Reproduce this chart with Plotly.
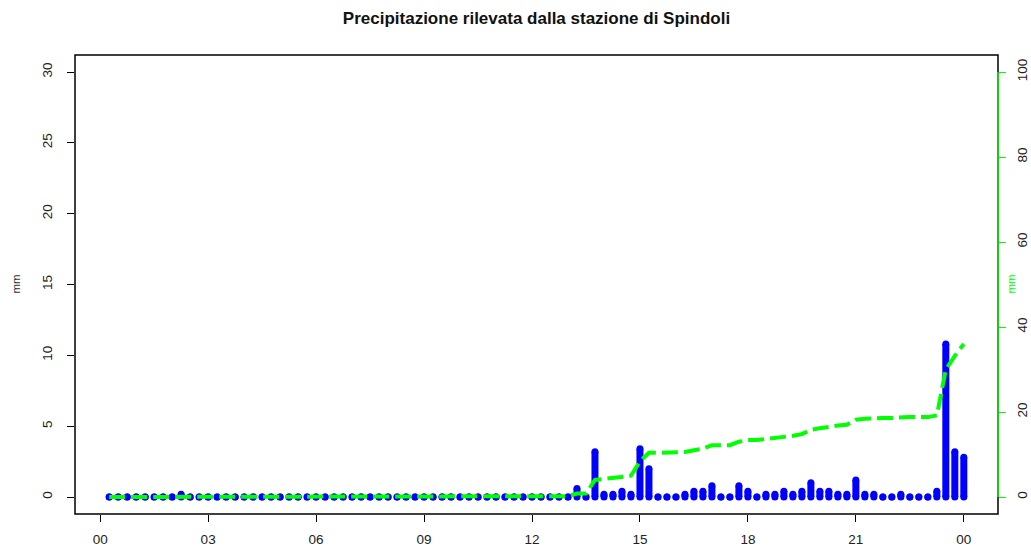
import numpy as np
import plotly.graph_objects as go

# 15-minute rainfall totals (mm), slots from 00:15 to 24:00, one row per 3 hours
rain_00_03 = [0, 0, 0, 0, 0, 0, 0, 0, 0.2, 0, 0, 0]
rain_03_06 = [0, 0, 0, 0, 0, 0, 0, 0, 0, 0, 0, 0]
rain_06_09 = [0, 0, 0, 0, 0, 0, 0, 0, 0, 0, 0, 0]
rain_09_12 = [0, 0, 0, 0, 0, 0, 0, 0, 0, 0, 0, 0]
rain_12_15 = [0, 0, 0, 0, 0.6, 0, 3.2, 0.2, 0.2, 0.4, 0.2, 3.4]
rain_15_18 = [2.0, 0, 0, 0, 0.2, 0.4, 0.4, 0.8, 0, 0, 0.8, 0.4]
rain_18_21 = [0, 0.2, 0.2, 0.4, 0.2, 0.4, 1.0, 0.4, 0.4, 0.2, 0.2, 1.2]
rain_21_24 = [0.2, 0.2, 0, 0, 0.2, 0, 0, 0, 0.4, 10.8, 3.2, 2.8]

rain = (rain_00_03 + rain_03_06 + rain_06_09 + rain_09_12
        + rain_12_15 + rain_15_18 + rain_18_21 + rain_21_24)
slot_hours = [0.25 * (i + 1) for i in range(len(rain))]
cumulative = np.cumsum(rain)

tick_hours = [0, 3, 6, 9, 12, 15, 18, 21, 24]
tick_labels = ["00", "03", "06", "09", "12", "15", "18", "21", "00"]
left_ticks = [0, 5, 10, 15, 20, 25, 30]
right_ticks = [0, 20, 40, 60, 80, 100]

title_text = "Precipitazione rilevata dalla stazione di Spindoli"

BLUE = "#0000FF"
GREEN = "#00FF00"
FONT = "Liberation Sans, Arial, Helvetica, sans-serif"

# vertical "histogram" sticks with rounded ends
seg_x, seg_y = [], []
for t, v in zip(slot_hours, rain):
    seg_x += [t, t, None]
    seg_y += [0, v, None]

fig = go.Figure()
fig.add_trace(go.Scatter(
    x=seg_x, y=seg_y, mode="lines+markers",
    line=dict(color=BLUE, width=7),
    marker=dict(color=BLUE, size=7, line=dict(width=0)),
    hoverinfo="skip", showlegend=False,
))
fig.add_trace(go.Scatter(
    x=slot_hours, y=cumulative, yaxis="y2", mode="lines",
    line=dict(color=GREEN, width=4, dash="16px,6px"),
    showlegend=False,
))

axis_common = dict(
    showgrid=False, zeroline=False, showline=False, automargin=False,
    ticks="outside", ticklen=7, tickwidth=1.3,
    tickfont=dict(family=FONT, size=13.5, color="#222"),
)

fig.update_layout(
    width=1031, height=550,
    margin=dict(l=75, r=33, t=55, b=36),
    paper_bgcolor="white", plot_bgcolor="white",
    showlegend=False,
    font=dict(family=FONT, size=13, color="#222"),
    title=dict(
        text=title_text, x=0.5, xref="paper", xanchor="center",
        y=1 - 18 / 550, yanchor="middle", automargin=False,
        font=dict(family=FONT, size=17, color="#111", weight="bold"),
    ),
    xaxis=dict(range=[-0.7, 24.95], tickvals=tick_hours, ticktext=tick_labels,
               tickcolor="black", ticklabelstandoff=6, **axis_common),
    yaxis=dict(range=[-1.2, 31.2], tickvals=left_ticks, tickangle=-90,
               tickcolor="black", ticklabelstandoff=10, **axis_common),
    yaxis2=dict(range=[-4, 104], tickvals=right_ticks, tickangle=-90,
                overlaying="y", side="right", tickcolor=GREEN,
                ticklabelstandoff=5, **axis_common),
    shapes=[
        dict(type="rect", xref="paper", yref="paper", x0=0, x1=1, y0=0, y1=1,
             line=dict(color="black", width=1.5), layer="above"),
        dict(type="line", xref="paper", yref="y2", x0=1, x1=1, y0=0, y1=100,
             line=dict(color=GREEN, width=1.5), layer="above"),
    ],
    annotations=[
        dict(text="mm", xref="paper", yref="paper", x=(15 - 75) / 923, y=0.5,
             xanchor="center", yanchor="middle", textangle=-90, showarrow=False,
             font=dict(family=FONT, size=11.5, color="#333")),
        dict(text="mm", xref="paper", yref="paper", x=(1010 - 75) / 923, y=0.5,
             xanchor="center", yanchor="middle", textangle=-90, showarrow=False,
             font=dict(family=FONT, size=11.5, color=GREEN)),
    ],
)

fig.write_html("out.html")
